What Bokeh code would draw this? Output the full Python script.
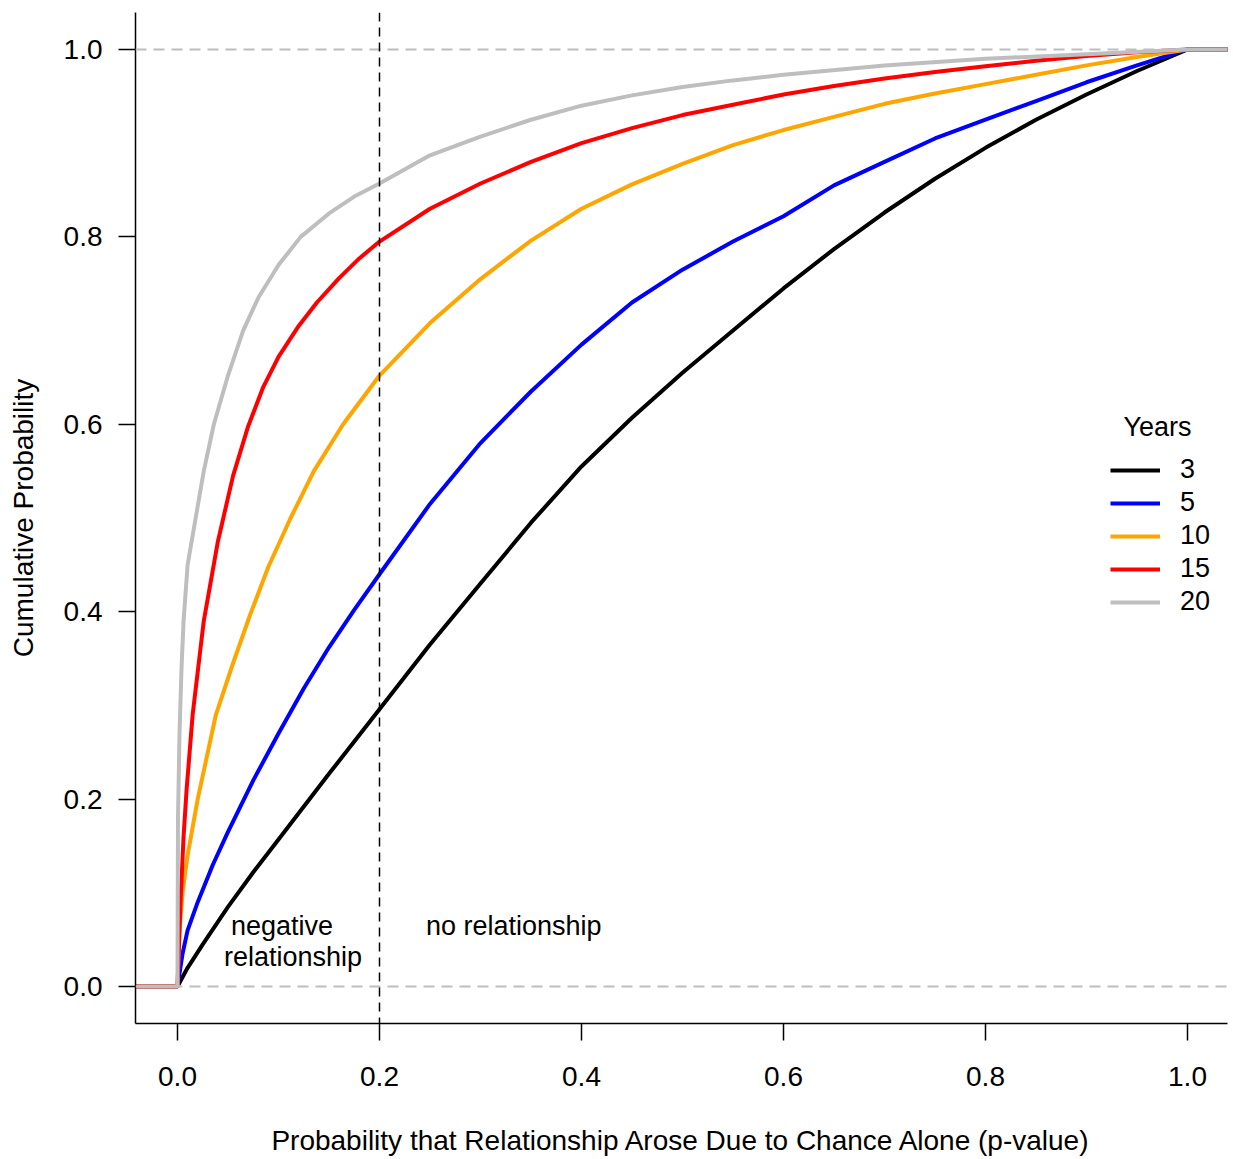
from bokeh.plotting import figure
from bokeh.models import (Range1d, FixedTicker, PrintfTickFormatter, Span, Label,
                          Legend, LegendItem, ColumnDataSource)
from bokeh.embed import file_html
from bokeh.resources import INLINE
from bokeh.core.properties import value

# ---- data ----
years = ["3", "5", "10", "15", "20"]
colors = ["#000000", "#0000FF", "#FFA500", "#FF0000", "#BEBEBE"]

p_black = [-0.05, 0.0, 0.01, 0.025, 0.05, 0.075, 0.1, 0.15, 0.2, 0.25, 0.3, 0.35, 0.4, 0.45, 0.5, 0.55, 0.6,
           0.65, 0.7, 0.75, 0.8, 0.85, 0.9, 0.95, 1.0, 1.05]
c_black = [0.0, 0.0, 0.02, 0.045, 0.085, 0.122, 0.157, 0.227, 0.296, 0.365, 0.43, 0.495, 0.555, 0.607, 0.655,
           0.7, 0.745, 0.787, 0.826, 0.862, 0.895, 0.925, 0.952, 0.977, 1.0, 1.0]

p_blue = [-0.05, 0.0, 0.005, 0.01, 0.02, 0.035, 0.05, 0.075, 0.1, 0.125, 0.15, 0.175, 0.2, 0.25, 0.3, 0.35,
          0.4, 0.45, 0.5, 0.55, 0.6, 0.65, 0.7, 0.75, 0.8, 0.85, 0.9, 0.95, 1.0, 1.05]
c_blue = [0.0, 0.0, 0.035, 0.06, 0.09, 0.13, 0.165, 0.22, 0.27, 0.318, 0.362, 0.402, 0.44, 0.515, 0.58, 0.635,
          0.685, 0.73, 0.765, 0.795, 0.822, 0.855, 0.88, 0.905, 0.925, 0.945, 0.965, 0.983, 1.0, 1.0]

p_orange = [-0.05, 0.0, 0.002, 0.005, 0.01, 0.02, 0.038, 0.055, 0.072, 0.09, 0.112, 0.135, 0.164, 0.2,
            0.25, 0.3, 0.35, 0.4, 0.45, 0.5, 0.55, 0.6, 0.65, 0.7, 0.75, 0.8, 0.85, 0.9, 0.95, 1.0, 1.05]
c_orange = [0.0, 0.0, 0.06, 0.1, 0.14, 0.2, 0.29, 0.345, 0.397, 0.448, 0.5, 0.55, 0.6, 0.652, 0.708, 0.755,
            0.796, 0.83, 0.856, 0.878, 0.898, 0.914, 0.928, 0.942, 0.953, 0.963, 0.973, 0.983, 0.992, 1.0, 1.0]

p_red = [-0.05, 0.0, 0.003, 0.006, 0.009, 0.015, 0.026, 0.04, 0.055, 0.07, 0.085, 0.1, 0.12, 0.138, 0.16,
         0.18, 0.2, 0.25, 0.3, 0.35, 0.4, 0.45, 0.5, 0.55, 0.6, 0.65, 0.7, 0.75, 0.8, 0.85, 0.9, 0.95,
         1.0, 1.05]
c_red = [0.0, 0.0, 0.09, 0.16, 0.21, 0.29, 0.39, 0.475, 0.545, 0.598, 0.64, 0.672, 0.705, 0.73, 0.756,
         0.777, 0.795, 0.83, 0.857, 0.88, 0.9, 0.916, 0.93, 0.941, 0.952, 0.961, 0.969, 0.976, 0.982,
         0.988, 0.993, 0.997, 1.0, 1.0]

p_gray = [-0.05, 0.0, 0.0005, 0.002, 0.004, 0.006, 0.01, 0.018, 0.026, 0.036, 0.05, 0.065, 0.08, 0.1,
          0.122, 0.15, 0.175, 0.2, 0.25, 0.3, 0.35, 0.4, 0.45, 0.5, 0.55, 0.6, 0.7, 0.8, 0.9, 1.0, 1.05]
c_gray = [0.0, 0.0, 0.18, 0.27, 0.34, 0.39, 0.45, 0.5, 0.55, 0.6, 0.652, 0.7, 0.735, 0.77, 0.8, 0.825,
          0.843, 0.857, 0.887, 0.907, 0.925, 0.94, 0.951, 0.96, 0.967, 0.973, 0.983, 0.99, 0.995, 1.0, 1.0]

series_p = [p_black, p_blue, p_orange, p_red, p_gray]
series_c = [c_black, c_blue, c_orange, c_red, c_gray]

x_ticks = [0.0, 0.2, 0.4, 0.6, 0.8, 1.0]
y_ticks = [0.0, 0.2, 0.4, 0.6, 0.8, 1.0]
threshold = 0.2

FONT = "Liberation Sans"

p = figure(width=1233, height=1158, output_backend="svg", toolbar_location=None,
           x_range=Range1d(-0.04158, 1.0396), y_range=Range1d(-0.03945, 1.03945),
           min_border_left=135, min_border_right=6, min_border_top=12, min_border_bottom=134,
           x_axis_label="Probability that Relationship Arose Due to Chance Alone (p-value)",
           y_axis_label="Cumulative Probability")
p.outline_line_color = None
p.xgrid.visible = False
p.ygrid.visible = False

for ax, ticks in ((p.xaxis[0], x_ticks), (p.yaxis[0], y_ticks)):
    ax.ticker = FixedTicker(ticks=ticks)
    ax.formatter = PrintfTickFormatter(format="%.1f")
    ax.major_tick_out = 17
    ax.major_tick_in = 0
    ax.minor_tick_line_color = None
    ax.axis_line_width = 1.5
    ax.major_tick_line_width = 1.5
    ax.axis_line_color = "#000000"
    ax.major_tick_line_color = "#000000"
    ax.major_label_text_font = FONT
    ax.major_label_text_font_size = "28px"
    ax.major_label_text_color = "#000000"
    ax.axis_label_text_font = FONT
    ax.axis_label_text_font_size = "28px"
    ax.axis_label_text_font_style = "normal"
    ax.axis_label_text_color = "#000000"

p.xaxis.major_label_standoff = 26
p.xaxis.axis_label_standoff = 36
p.yaxis.major_label_standoff = 16
p.yaxis.major_label_orientation = "horizontal"
p.yaxis.axis_label_standoff = 22

# reference lines
for yv in (0.0, 1.0):
    p.add_layout(Span(location=yv, dimension="width", line_color="#BEBEBE",
                      line_dash="11 7", line_width=2))
p.add_layout(Span(location=threshold, dimension="height", line_color="#000000",
                  line_dash="9 6", line_width=1.5))

renderers = []
for px, cy, col in zip(series_p, series_c, colors):
    src = ColumnDataSource(dict(x=px, y=cy))
    r = p.line("x", "y", source=src, line_color=col, line_width=4)
    renderers.append(r)

legend = Legend(items=[LegendItem(label=yr, renderers=[r]) for yr, r in zip(years, renderers)],
                location=(975, 406), orientation="vertical")
legend.glyph_width = 50
legend.glyph_height = 28
legend.label_height = 28
legend.spacing = 2
legend.label_standoff = 20
legend.padding = 0
legend.margin = 0
legend.border_line_color = None
legend.background_fill_alpha = 0
legend.label_text_font = FONT
legend.label_text_font_size = "27px"
legend.label_text_color = "#000000"
p.add_layout(legend)

p.add_layout(Label(x=1022, y=597, x_units="screen", y_units="screen", text="Years",
                   text_font=FONT, text_font_size="27px", text_align="center",
                   text_baseline="middle", text_color="#000000"))

# region annotations
ann_text = ["negative", "relationship", "no relationship"]
ann_x = [0.1035, 0.1144, 0.333]
ann_y = [0.065, 0.031, 0.065]
p.text(x=ann_x, y=ann_y, text=ann_text, text_font=value(FONT), text_font_size="27px",
       text_align="center", text_baseline="middle", text_color="#000000")

open("out.html", "w").write(file_html(p, INLINE))
